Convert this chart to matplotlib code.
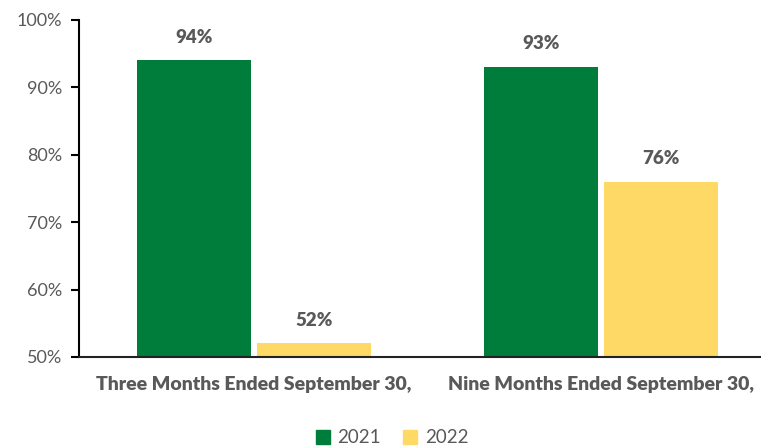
import numpy as np
import matplotlib
matplotlib.use("Agg")
import matplotlib.pyplot as plt
from matplotlib.patches import Patch

categories = ["Three Months Ended September 30,", "Nine Months Ended September 30,"]
years = ["2021", "2022"]
values_2021 = [94, 93]
values_2022 = [52, 76]

green = "#007D3A"
yellow = "#FFD966"
grey = "#595959"

plt.rcParams["font.family"] = ["Lato", "DejaVu Sans"]

fig = plt.figure(figsize=(7.61, 4.46), dpi=100)
ax = fig.add_axes([0.1038, 0.1996, 0.8962, 0.7556])

x = np.arange(len(categories))
w = 0.328
off = 0.1724
b1 = ax.bar(x - off, values_2021, w, color=green, bottom=0)
b2 = ax.bar(x + off, values_2022, w, color=yellow, bottom=0)

for bars, vals in ((b1, values_2021), (b2, values_2022)):
    for rect, v in zip(bars, vals):
        ax.text(rect.get_x() + rect.get_width() / 2, v + 2.2, f"{v}%",
                ha="center", va="bottom", fontsize=13.5, fontweight="heavy", color=grey)

ax.set_ylim(50, 100)
ax.set_xlim(-0.503, 1.46)
ax.set_yticks(range(50, 101, 10))
ax.set_yticklabels([f"{t}%" for t in range(50, 101, 10)], fontsize=13, color=grey)
ax.set_xticks(x)
ax.set_xticklabels(categories, fontsize=14, fontweight="heavy", color=grey)
ax.tick_params(axis="x", length=0, pad=14)
ax.tick_params(axis="y", length=6, width=1.5, color="black", pad=6)

for s in ["top", "right"]:
    ax.spines[s].set_visible(False)
ax.spines["left"].set_linewidth(1.5)
ax.spines["bottom"].set_linewidth(1.5)
ax.spines["left"].set_color("black")
ax.spines["bottom"].set_color("#222222")

handles = [Patch(color=green, label=years[0]), Patch(color=yellow, label=years[1])]
fig.legend(handles=handles, loc="center", bbox_to_anchor=(0.515, 0.018), ncol=2,
           frameon=False, fontsize=13.5, handlelength=0.75, handleheight=0.75,
           handletextpad=0.4, columnspacing=1.2, labelcolor=grey)

fig.savefig("out.png", dpi=100)
